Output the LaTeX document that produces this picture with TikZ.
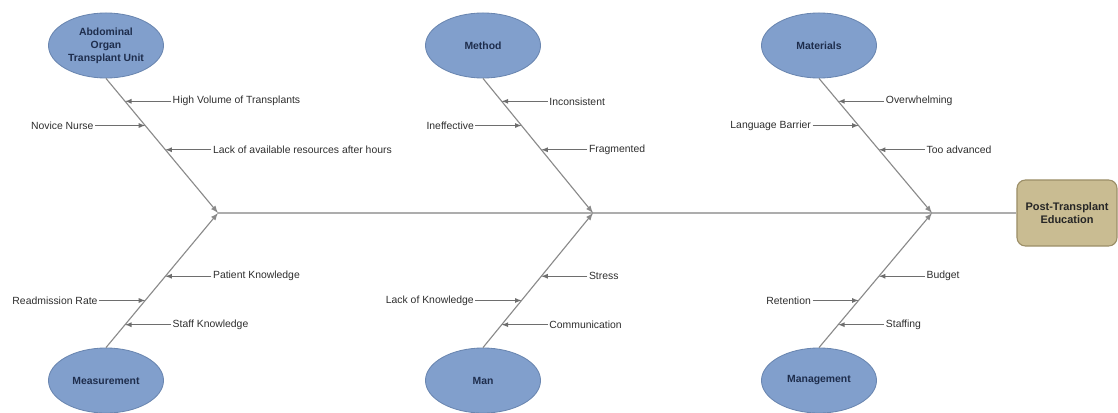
\documentclass[tikz,border=0pt]{standalone}
\usepackage{fontspec}
\setmainfont{Liberation Sans}
\usetikzlibrary{shapes,arrows,positioning,calc}

\definecolor{catfill}{HTML}{819FCC}
\definecolor{catedge}{HTML}{6A86B0}
\definecolor{cattext}{HTML}{1E2D4C}
\definecolor{effill}{HTML}{C9BC92}
\definecolor{efedge}{HTML}{9C8F68}
\definecolor{bonegray}{HTML}{8A8A8A}
\definecolor{labgray}{HTML}{2E2E2E}

\tikzset{
  cat/.style={draw=catedge, fill=catfill, ellipse, line width=0.6pt,
    minimum width=2.875cm, minimum height=1.625cm, inner sep=0pt,
    align=center, text=cattext, font=\fontsize{7.4}{9.2}\selectfont\bfseries},
  effect/.style={draw=efedge, fill=effill, rectangle, rounded corners=6pt, line width=0.8pt,
    minimum width=2.5cm, minimum height=1.65cm, align=center, text=black!85,
    font=\fontsize{7.8}{9.2}\selectfont\bfseries},
  cause/.style={inner sep=1pt, text=labgray, font=\fontsize{7.4}{9}\selectfont},
  bone/.style={draw=bonegray, line width=0.8pt, ->, >=latex},
  twig/.style={draw=bonegray!80!black, line width=0.6pt, ->, >=latex},
  spine/.style={draw=bonegray!70, line width=0.9pt}
}

\begin{document}
\begin{tikzpicture}[x=0.025cm, y=-0.025cm]
  \useasboundingbox (0,0) rectangle (1118,413);

  % junctions on the spine
  \coordinate (j1) at (218,213);
  \coordinate (j2) at (593,213);
  \coordinate (j3) at (932,213);

  % effect
  \node[effect] (edu) at (1067,213) {Post-Transplant\\Education};
  \draw[spine] (j1) -- (edu.west);

  % categories
  \node[cat] (unit) at (106,45.5) {Abdominal\\Organ\\Transplant Unit};
  \node[cat] (meth) at (483,45.5) {Method};
  \node[cat] (matr) at (819,45.5) {Materials};
  \node[cat] (meas) at (106,380.5) {Measurement};
  \node[cat] (man)  at (483,380.5) {Man};
  \node[cat] (mgmt) at (819,380.5) {Management};

  \draw[bone] (unit.south) -- (j1);
  \draw[bone] (meth.south) -- (j2);
  \draw[bone] (matr.south) -- (j3);
  \draw[bone] (meas.north) -- (j1);
  \draw[bone] (man.north) -- (j2);
  \draw[bone] (mgmt.north) -- (j3);

  % Abdominal Organ Transplant Unit
  \coordinate (u1) at ($(unit.south)!0.17!(j1)$);
  \coordinate (u2) at ($(unit.south)!0.35!(j1)$);
  \coordinate (u3) at ($(unit.south)!0.53!(j1)$);
  \node[cause, right=1.15cm of u1] (hvol) {High Volume of Transplants};
  \node[cause, left=1.25cm of u2] (novice) {Novice Nurse};
  \node[cause, right=1.15cm of u3] (lack) {Lack of available resources after hours};
  \draw[twig] (hvol) -- (u1);
  \draw[twig] (novice) -- (u2);
  \draw[twig] (lack) -- (u3);

  % Method
  \coordinate (m1) at ($(meth.south)!0.17!(j2)$);
  \coordinate (m2) at ($(meth.south)!0.35!(j2)$);
  \coordinate (m3) at ($(meth.south)!0.53!(j2)$);
  \node[cause, right=1.15cm of m1] (incons) {Inconsistent};
  \node[cause, left=1.15cm of m2] (ineff) {Ineffective};
  \node[cause, right=1.15cm of m3] (frag) {Fragmented};
  \draw[twig] (incons) -- (m1);
  \draw[twig] (ineff) -- (m2);
  \draw[twig] (frag) -- (m3);

  % Materials
  \coordinate (a1) at ($(matr.south)!0.17!(j3)$);
  \coordinate (a2) at ($(matr.south)!0.35!(j3)$);
  \coordinate (a3) at ($(matr.south)!0.53!(j3)$);
  \node[cause, right=1.15cm of a1] (overw) {Overwhelming};
  \node[cause, left=1.15cm of a2] (lang) {Language Barrier};
  \node[cause, right=1.15cm of a3] (adv) {Too advanced};
  \draw[twig] (overw) -- (a1);
  \draw[twig] (lang) -- (a2);
  \draw[twig] (adv) -- (a3);

  % Measurement
  \coordinate (s1) at ($(meas.north)!0.17!(j1)$);
  \coordinate (s2) at ($(meas.north)!0.35!(j1)$);
  \coordinate (s3) at ($(meas.north)!0.53!(j1)$);
  \node[cause, right=1.15cm of s1] (staffk) {Staff Knowledge};
  \node[cause, left=1.15cm of s2] (readm) {Readmission Rate};
  \node[cause, right=1.15cm of s3] (patk) {Patient Knowledge};
  \draw[twig] (staffk) -- (s1);
  \draw[twig] (readm) -- (s2);
  \draw[twig] (patk) -- (s3);

  % Man
  \coordinate (n1) at ($(man.north)!0.17!(j2)$);
  \coordinate (n2) at ($(man.north)!0.35!(j2)$);
  \coordinate (n3) at ($(man.north)!0.53!(j2)$);
  \node[cause, right=1.15cm of n1] (comm) {Communication};
  \node[cause, left=1.15cm of n2] (lackk) {Lack of Knowledge};
  \node[cause, right=1.15cm of n3] (stress) {Stress};
  \draw[twig] (comm) -- (n1);
  \draw[twig] (lackk) -- (n2);
  \draw[twig] (stress) -- (n3);

  % Management
  \coordinate (g1) at ($(mgmt.north)!0.17!(j3)$);
  \coordinate (g2) at ($(mgmt.north)!0.35!(j3)$);
  \coordinate (g3) at ($(mgmt.north)!0.53!(j3)$);
  \node[cause, right=1.15cm of g1] (staffing) {Staffing};
  \node[cause, left=1.15cm of g2] (reten) {Retention};
  \node[cause, right=1.15cm of g3] (budget) {Budget};
  \draw[twig] (staffing) -- (g1);
  \draw[twig] (reten) -- (g2);
  \draw[twig] (budget) -- (g3);
\end{tikzpicture}
\end{document}
